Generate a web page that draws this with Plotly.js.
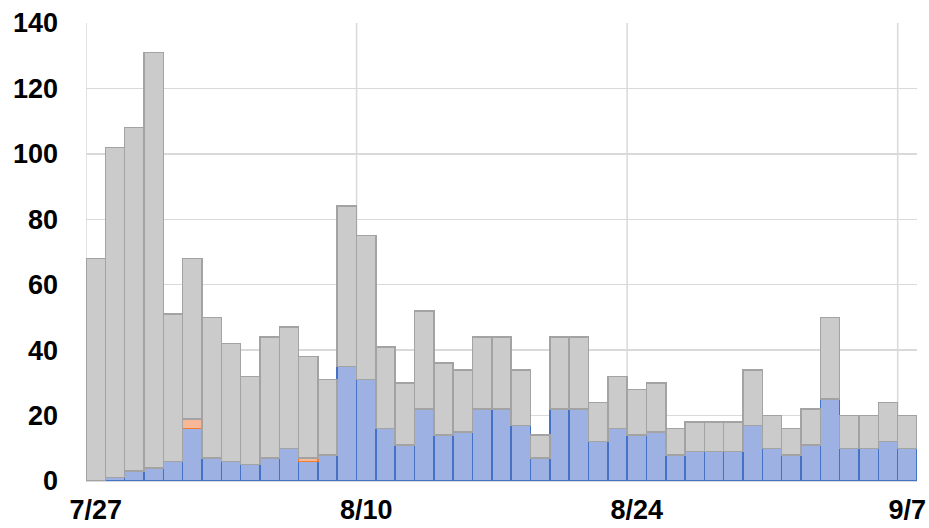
<!DOCTYPE html>
<html>
<head>
<meta charset="utf-8">
<script src="https://cdn.plot.ly/plotly-3.0.1.min.js"></script>
<style>html,body{margin:0;padding:0;background:#fff;}#chart{width:929px;height:528px;}</style>
</head>
<body>
<div id="chart"></div>
<script>
const dates = ['7/27','7/28','7/29','7/30','7/31','8/1','8/2','8/3','8/4','8/5','8/6','8/7','8/8','8/9',
  '8/10','8/11','8/12','8/13','8/14','8/15','8/16','8/17','8/18','8/19','8/20','8/21','8/22','8/23',
  '8/24','8/25','8/26','8/27','8/28','8/29','8/30','8/31','9/1','9/2','9/3','9/4','9/5','9/6','9/7'];
const blueVals = [0,1,3,4,6,16,7,6,5,7,10,6,8,35,31,16,11,22,14,15,22,22,17,7,22,22,12,16,14,15,8,9,9,9,17,10,8,11,25,10,10,12,10];
const orangeVals = [0,0,0,0,0,3,0,0,0,0,0,1,0,0,0,0,0,0,0,0,0,0,0,0,0,0,0,0,0,0,0,0,0,0,0,0,0,0,0,0,0,0,0];
const grayVals = [68,101,105,127,45,49,43,36,27,37,37,31,23,49,44,25,19,30,22,19,22,22,17,7,22,22,12,16,14,15,8,9,9,9,17,10,8,11,25,10,10,12,10];
const tickDates = ['7/27','8/10','8/24','9/7'];
const yTicks = [0,20,40,60,80,100,120,140];

const idx = dates.map((d,i)=>i);
const tickIdx = tickDates.map(d=>dates.indexOf(d));

const traces = [
  {type:'bar', x: idx, y: blueVals, name:'blue',
   marker:{color:'#9db1e3', line:{color:'#4472c4', width:1.5}}, hoverinfo:'skip'},
  {type:'bar', x: idx, y: orangeVals, name:'orange',
   marker:{color:'#f8b796', line:{color:'#ed7d31', width:1.5}}, hoverinfo:'skip'},
  {type:'bar', x: idx, y: grayVals, name:'gray',
   marker:{color:'#cbcbcb', line:{color:'#a3a3a3', width:1.5}}, hoverinfo:'skip'}
];

const shapes = tickIdx.map(i=>({type:'line', xref:'x', yref:'paper', x0:i-0.5, x1:i-0.5, y0:0, y1:1,
  line:{color:'#d9d9d9', width:1.5}, layer:'below'}));

const layout = {
  width:929, height:528,
  margin:{l:86, r:12, t:23, b:47},
  paper_bgcolor:'#fff', plot_bgcolor:'#fff',
  barmode:'stack', bargap:0,
  showlegend:false,
  font:{family:'"Liberation Sans", Arial, sans-serif', color:'#000', size:27},
  xaxis:{range:[-0.5, 42.5], tickmode:'array', tickvals:tickIdx, ticktext:tickDates,
    showgrid:false, zeroline:false, showline:false, ticks:'', ticklabelstandoff:10,
    tickfont:{family:'"Liberation Sans", Arial, sans-serif', size:27, weight:'bold', color:'#000'}},
  yaxis:{range:[0,140], tickmode:'array', tickvals:yTicks, showgrid:true, gridcolor:'#d9d9d9', gridwidth:1.5,
    zeroline:true, zerolinecolor:'#d9d9d9', zerolinewidth:1.5, showline:false, ticks:'', ticklabelstandoff:27,
    tickfont:{family:'"Liberation Sans", Arial, sans-serif', size:27, weight:'bold', color:'#000'}},
  shapes: shapes
};

Plotly.newPlot('chart', traces, layout, {staticPlot:true, displayModeBar:false});
</script>
</body>
</html>
